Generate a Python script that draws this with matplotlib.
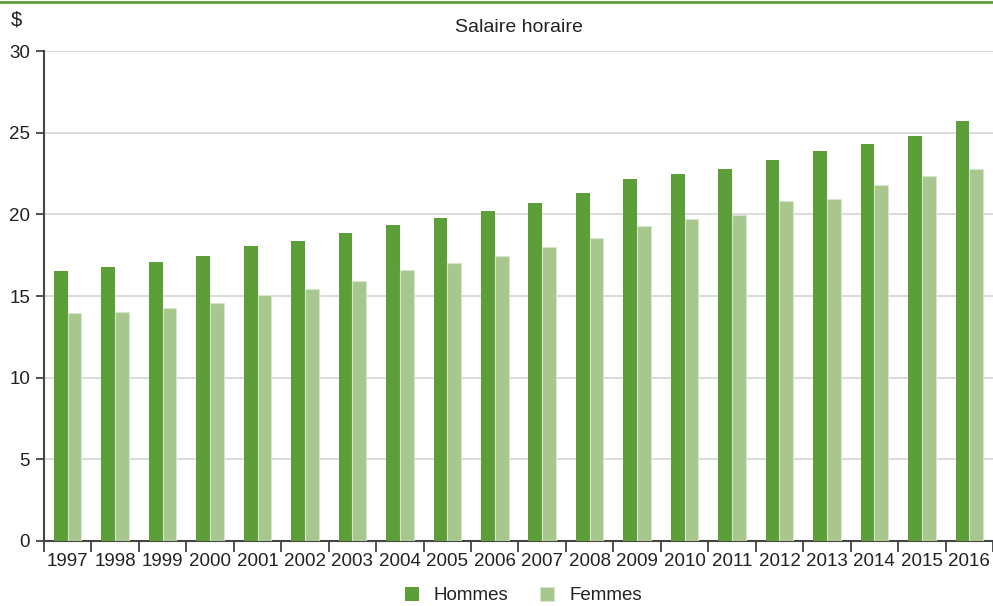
import matplotlib.pyplot as plt
from matplotlib.lines import Line2D
import numpy as np

years = [str(y) for y in range(1997, 2017)]
hommes = [16.53, 16.78, 17.08, 17.45, 18.06, 18.37, 18.86, 19.35, 19.78, 20.2,
          20.69, 21.31, 22.16, 22.47, 22.78, 23.33, 23.88, 24.31, 24.8, 25.71]
femmes = [13.94, 14.02, 14.25, 14.55, 15.06, 15.45, 15.92, 16.59, 17.0, 17.45,
          18.0, 18.55, 19.31, 19.71, 19.98, 20.8, 20.94, 21.78, 22.33, 22.76]

plt.rcParams["font.family"] = ["Liberation Sans", "DejaVu Sans"]
fs = 13.5

dark = "#5c9f38"
light = "#a8c78f"
txt = "#222222"

fig = plt.figure(figsize=(9.93, 6.06), dpi=100)
ax = fig.add_axes([0.0443, 0.1073, 0.9557, 0.8085])

x = np.arange(len(years))
w = 0.29
ax.bar(x - w / 2, hommes, w, color=dark, label="Hommes", zorder=3)
ax.bar(x + w / 2, femmes, w, color=light, edgecolor="#d6e6ca", linewidth=0.8,
       label="Femmes", zorder=3)

ax.set_xlim(-0.5, len(years) - 0.5)
ax.set_ylim(0, 30)
ax.set_yticks(range(0, 31, 5))
ax.yaxis.grid(True, color="#d9d9d9", linewidth=1.3, zorder=0)
ax.set_axisbelow(True)

ax.set_xticks(x)
ax.set_xticklabels(years)
ax.set_xticks(np.arange(-0.5, len(years)), minor=True)
ax.tick_params(axis="x", which="major", length=0, pad=9, labelsize=fs, colors=txt)
ax.tick_params(axis="x", which="minor", length=8, width=1.2, color="#333333")
ax.tick_params(axis="y", length=6, width=1.2, color="#333333", labelsize=fs,
               colors=txt, pad=4)

for s in ["top", "right"]:
    ax.spines[s].set_visible(False)
ax.spines["left"].set_color("#444444")
ax.spines["left"].set_linewidth(1.5)
ax.spines["bottom"].set_color("#444444")
ax.spines["bottom"].set_linewidth(1.5)

fig.text(0.523, 0.955, "Salaire horaire", ha="center", va="center",
         fontsize=fs + 0.5, color=txt)
fig.text(0.016, 0.967, "$", ha="center", va="center", fontsize=fs + 1, color=txt)
fig.add_artist(Line2D([0, 1], [0.9975, 0.9975], color=dark, linewidth=2,
                      transform=fig.transFigure))

fig.legend(loc="lower center", bbox_to_anchor=(0.527, -0.025), ncol=2,
           frameon=False, fontsize=fs, handlelength=0.75, handleheight=0.75,
           columnspacing=1.7, handletextpad=0.8, labelcolor=txt)

fig.savefig("out.png", dpi=100)
